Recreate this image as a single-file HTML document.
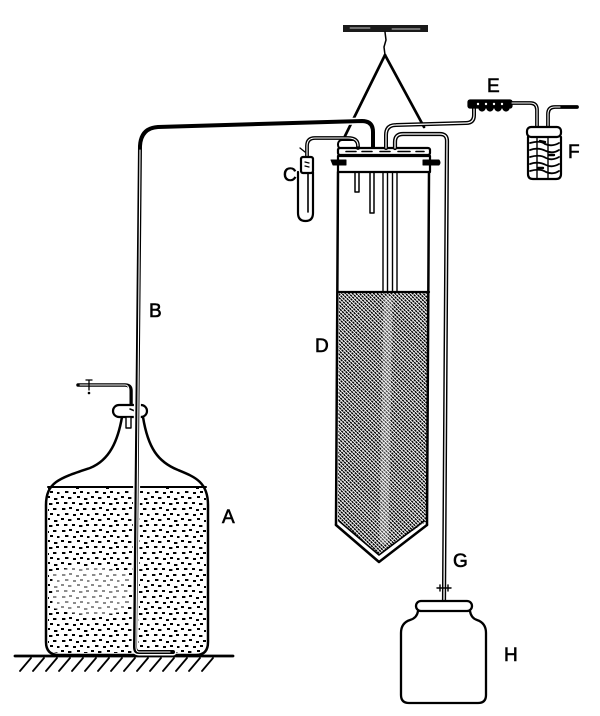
<!DOCTYPE html>
<html><head><meta charset="utf-8"><style>
html,body{margin:0;padding:0;background:#fff;}
svg{display:block;}
text{font-family:"Liberation Sans",sans-serif;font-size:19px;fill:#000;stroke:#000;stroke-width:0.6;}
</style></head><body>
<svg width="600" height="716" viewBox="0 0 600 716" xmlns="http://www.w3.org/2000/svg">
<defs>
<pattern id="dots" width="30" height="22" patternUnits="userSpaceOnUse">
<rect x="2" y="2" width="3.4" height="2"/><rect x="9" y="1" width="3" height="2"/><rect x="16" y="3" width="3" height="2"/><rect x="23" y="2" width="3.4" height="2"/>
<rect x="5" y="7" width="3.4" height="2"/><rect x="13" y="8" width="3" height="2"/><rect x="20" y="7" width="3" height="2"/><rect x="27" y="8" width="2.5" height="2"/>
<rect x="1" y="12" width="3" height="2"/><rect x="8" y="13" width="3.4" height="2"/><rect x="17" y="12" width="3" height="2"/><rect x="24" y="14" width="3.4" height="2"/>
<rect x="4" y="18" width="3.4" height="2"/><rect x="12" y="18" width="3" height="2"/><rect x="19" y="19" width="3.4" height="2"/><rect x="26" y="18" width="3" height="2"/>
</pattern>
<pattern id="hatch" width="3" height="2.5" patternUnits="userSpaceOnUse" patternTransform="rotate(45)">
<rect x="0" y="0" width="2.4" height="1.5" fill="#000"/>
</pattern>
</defs>

<g fill="none" stroke="#000" stroke-linecap="round" stroke-linejoin="round">

<!-- Hanger -->
<rect x="343" y="25" width="85" height="7" fill="#1a1a1a" stroke="none"/>
<path d="M350,28 L370,28 M392,29 L420,29" stroke="#fff" stroke-width="0.8"/>
<path d="M385,32 L386,40 L384,47 L385,55" stroke-width="1.5"/>
<path d="M385,55 L345,136" stroke-width="2.7"/>
<path d="M385,55 L424,127" stroke-width="2.7"/>

<!-- Bottle A -->
<path d="M48,487 L206,487 L206,642 Q206,653 196,653 L60,653 Q48,653 48,642 Z" fill="url(#dots)" stroke="none"/>
<path d="M52,572 Q90,560 128,575 L128,610 Q95,622 52,608 Z" fill="#fff" stroke="none" opacity="0.55"/>
<path d="M122,417 C118,440 110,460 90,468 C60,478 46,482 46,505 L46,642 Q46,655 59,655 L196,655 Q208,655 208,642 L208,505 C208,482 195,477 178,470 C158,462 148,448 143,417" stroke-width="2.5"/>
<line x1="48" y1="487" x2="206" y2="487" stroke-width="2"/>
<!-- ground -->
<line x1="15" y1="656" x2="233" y2="656" stroke-width="2.8"/>
<path d="M20,671 L31,658 M33,671 L44,658 M46,671 L57,658 M59,671 L70,658 M72,671 L83,658 M85,671 L96,658 M98,671 L109,658 M111,671 L122,658 M124,671 L135,658 M137,671 L148,658 M150,671 L161,658 M163,671 L174,658 M176,671 L187,658 M189,671 L200,658 M202,671 L213,658" stroke-width="1.8"/>

<!-- Stopper A and side tube -->
<path d="M78,385 L125,385 Q131,385 131,391 L131,405" stroke-width="3.5"/>
<path d="M80,385 L125,385 Q129,385 129,391 L129,405" stroke="#fff" stroke-width="1"/>
<path d="M86,380 L92,380 M89,380 L89,390" stroke-width="1.3"/>
<circle cx="89" cy="393" r="0.8" fill="#000"/>
<rect x="113" y="405" width="34" height="12" rx="6" fill="#fff" stroke-width="2.2"/>
<path d="M130,409 L135,411" stroke-width="1.5"/>
<rect x="126" y="417" width="5" height="11" fill="#fff" stroke-width="1.4"/>

<!-- Tube B -->
<path d="M173,652 L139,652 Q135,652 135,647 L140,146 Q141,128 158,127 L362,121 Q373,121 373,132 L373,150" stroke="#fff" stroke-width="7"/>
<path d="M173,652 L139,652 Q135,652 135,647 L140,146 Q141,128 158,127 L362,121 Q373,121 373,132 L373,150" stroke-width="4"/>
<path d="M170,652 L139,652 Q136,652 136,647 L140,150" stroke="#fff" stroke-width="1.1"/>

<!-- Cylinder D -->
<polygon points="339,292 428,292 427,521 379,554 338,521" fill="url(#hatch)" stroke="none"/>
<path d="M388,300 L384,540" stroke="#fff" stroke-width="9" opacity="0.3"/>
<line x1="338" y1="292" x2="429" y2="292" stroke-width="2.2"/>
<line x1="338" y1="172" x2="336" y2="525" stroke-width="2.5"/>
<line x1="429" y1="172" x2="427" y2="525" stroke-width="2.5"/>
<polyline points="336,525 379,562 427,525" stroke-width="2.5"/>
<polyline points="339,521 379,555 424,521" stroke-width="1.6"/>

<!-- inner tubes -->
<path d="M383,172 L383,292 M387.5,172 L387.5,292 M392.5,172 L392.5,292 M397,172 L397,292" stroke-width="1.4"/>
<path d="M355,172 L355,192 L359,192 L359,172" stroke-width="1.5"/>
<path d="M370,172 L370,213 L374,213 L374,172" stroke-width="1.5"/>

<!-- Lid -->
<rect x="338" y="140" width="20" height="9" rx="4" fill="#fff" stroke-width="2"/>
<rect x="338" y="148" width="92" height="7" rx="2" fill="#fff" stroke-width="2.2"/>
<path d="M346,151.5 L356,151.5 M362,151.5 L372,151.5 M380,151.5 L390,151.5 M398,151.5 L410,151.5 M416,151.5 L424,151.5" stroke-width="1.6"/>
<rect x="338" y="156" width="92" height="16" fill="#fff" stroke-width="2.2"/>
<path d="M331,160 L346,160 L346,165 L333,165 Z" fill="#000" stroke-width="1"/>
<path d="M423,160 L439,160 Q441,162.5 439,165 L423,165 Z" fill="#000" stroke-width="1"/>

<!-- Tube to E -->
<path d="M386,148 L386,135 Q386,125 396,125 L466,123 Q474,123 474,115 L474,108" stroke-width="4"/>
<path d="M386,148 L386,135 Q386,125 396,125 L466,123 Q474,123 474,115 L474,108" stroke="#fff" stroke-width="1.2"/>
<!-- Tube G -->
<path d="M395,148 L395,142 Q395,134 403,134 L440,134 Q447,134 447,141 L444,600" stroke-width="4.2"/>
<path d="M395,148 L395,142 Q395,134 403,134 L440,134 Q447,134 447,141 L444,600" stroke="#fff" stroke-width="1.3"/>

<!-- Tube C -->
<path d="M307,157 L307,146 Q307,138 315,138 L348,138 Q358,138 358,146 L358,148" stroke-width="3.8"/>
<path d="M307,157 L307,146 Q307,138 315,138 L348,138 Q358,138 358,146" stroke="#fff" stroke-width="1.1"/>
<path d="M298,172 L298,213 Q298,221 305.5,221 Q313,221 313,213 L313,172" fill="#fff" stroke-width="2.2"/>
<rect x="301" y="157" width="12" height="16" rx="2" fill="#fff" stroke-width="2.2"/>
<path d="M305,162 L309,163 M305,166 L309,167" stroke-width="1.3"/>
<path d="M300,148 L305,152" stroke-width="1.3"/>
<path d="M308,173 L308,212" stroke-width="1.6"/>

<!-- E -->
<path d="M479,108 a3,3 0 0,0 6,0 M487,108 a3,3 0 0,0 6,0 M495,108 a3,3 0 0,0 6,0 M503,108 a3,3 0 0,0 6,0" fill="#000" stroke-width="1.2"/>
<rect x="468" y="100" width="44" height="8" rx="2" fill="#000" stroke-width="1.2"/>
<circle cx="478" cy="104" r="1.2" fill="#fff" stroke="none"/><circle cx="486" cy="104" r="1.2" fill="#fff" stroke="none"/><circle cx="494" cy="104" r="1.2" fill="#fff" stroke="none"/><circle cx="502" cy="104" r="1.2" fill="#fff" stroke="none"/>
<path d="M512,103 L530,103 Q537,103 537,110 L537,128" stroke-width="3.8"/>
<path d="M512,103 L530,103 Q537,103 537,110 L537,128" stroke="#fff" stroke-width="1.1"/>
<path d="M548,128 L548,114 Q548,107 555,107 L577,107" stroke-width="3.8"/>
<path d="M548,128 L548,114 Q548,107 555,107 L560,107" stroke="#fff" stroke-width="1.1"/>

<!-- F -->
<path d="M528,137 L528,174 Q528,179 533,179 L556,179 Q561,179 561,174 L561,137" fill="#fff" stroke-width="2.2"/>
<rect x="527" y="127" width="34" height="10" rx="4" fill="#fff" stroke-width="2.2"/>
<path d="M537,137 L537,179 M548,137 L548,179" stroke-width="1.4"/>
<path d="M530,143 Q540,140 545,144 Q552,147 559,143 M530,150 Q538,147 546,151 Q553,154 559,150 M530,157 Q540,154 546,158 Q552,161 559,157 M530,164 Q538,161 546,165 Q552,168 559,164 M530,171 Q540,168 546,172 Q553,175 559,171" stroke-width="1.8"/>
<path d="M540,141 L545,142 M549,155 L554,155 M538,168 L543,168" stroke-width="2.4"/>

<!-- H -->
<path d="M437,588 L451,588 M440,585 L440,591 M448,585 L448,591" stroke-width="1.4"/>
<path d="M418,611 Q417,618 410,620 Q401,623 401,633 L401,695 Q401,703 409,703 L478,703 Q486,703 486,695 L486,633 Q486,623 477,620 Q471,618 470,611" fill="#fff" stroke-width="2.3"/>
<rect x="416" y="601" width="56" height="10" rx="5" fill="#fff" stroke-width="2.3"/>
</g>

<!-- labels -->
<text x="149" y="317">B</text>
<text x="222" y="523">A</text>
<text x="283" y="181">C</text>
<text x="315" y="352">D</text>
<text x="487" y="92">E</text>
<text x="568" y="158">F</text>
<text x="453" y="567">G</text>
<text x="504" y="661">H</text>
</svg>
</body></html>
